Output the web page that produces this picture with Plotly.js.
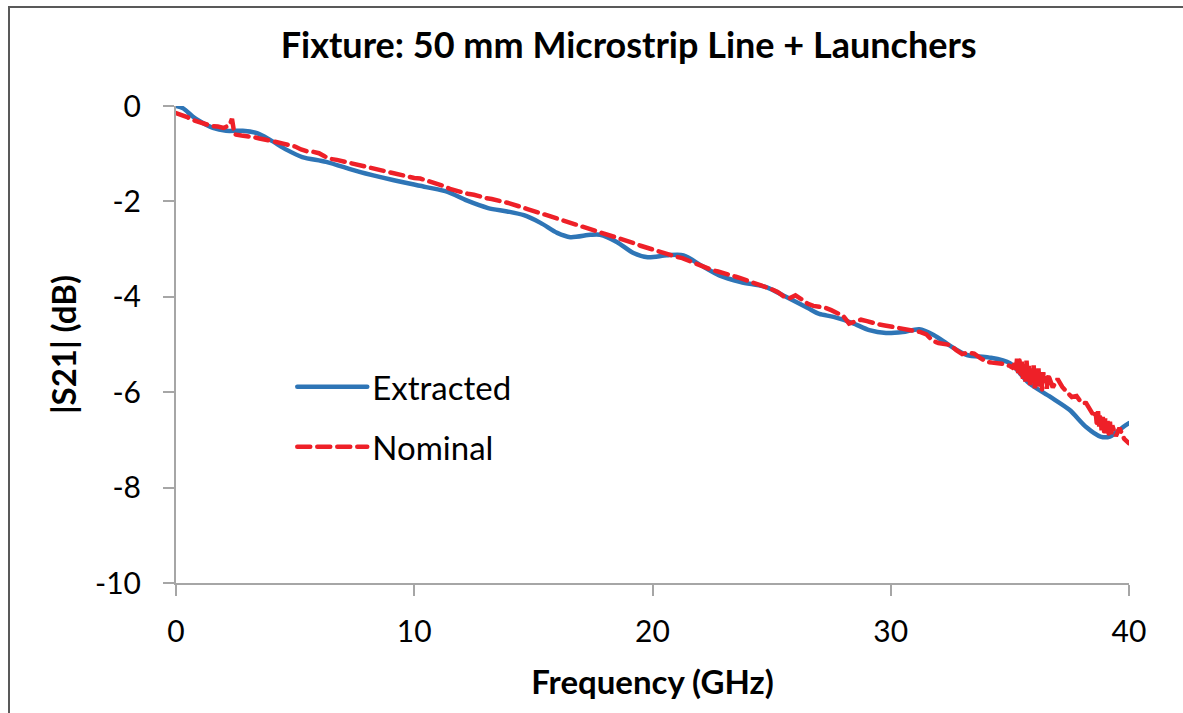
<!DOCTYPE html>
<html>
<head>
<meta charset="utf-8">
<script src="https://cdn.plot.ly/plotly-3.0.1.min.js"></script>
<style>
  html, body { margin: 0; padding: 0; overflow: hidden; background: #fff; }
  #chart { width: 1183px; height: 713px; }
  #frame { position: absolute; left: 8px; top: 6px; width: 1220px; height: 760px;
           border: 2px solid #595959; pointer-events: none; box-sizing: border-box; }
  .scatterlayer .js-line { stroke-linecap: round; }
  .legend .js-line { stroke-linecap: round; }
</style>
</head>
<body>
<div id="chart"></div>
<div id="frame"></div>
<script>
// Extracted |S21| (dB) vs frequency (GHz)
const extractedFreq = [0, 0.3, 0.7, 1.0, 1.55, 2.1, 2.8, 3.4, 3.95, 4.65, 5.3, 6.3, 7.7, 9.1, 10.5, 11.4, 12.2, 13.1, 13.9, 14.6, 15.3, 16.0, 16.55, 17.4, 17.8, 18.5, 19.2, 19.8, 20.6, 21.3, 22.0, 22.8, 23.7, 24.8, 25.6, 26.5, 27.0, 27.6, 28.4, 29.1, 29.8, 30.5, 31.2, 31.8, 32.5, 33.2, 34.1, 35.0, 35.8, 36.7, 37.5, 38.2, 38.8, 39.2, 39.75, 40.0];
const extractedS21 = [0.00, -0.05, -0.22, -0.32, -0.46, -0.52, -0.52, -0.57, -0.71, -0.92, -1.07, -1.17, -1.38, -1.55, -1.70, -1.80, -1.98, -2.14, -2.21, -2.29, -2.45, -2.66, -2.75, -2.70, -2.70, -2.85, -3.08, -3.17, -3.13, -3.13, -3.33, -3.55, -3.69, -3.80, -4.00, -4.23, -4.36, -4.42, -4.55, -4.70, -4.76, -4.74, -4.68, -4.80, -5.03, -5.22, -5.27, -5.39, -5.81, -6.10, -6.37, -6.73, -6.93, -6.93, -6.73, -6.65];

// Nominal |S21| (dB) vs frequency (GHz)
const nominalFreq = [0.00, 0.25, 0.50, 0.75, 1.00, 1.25, 1.50, 1.75, 2.00, 2.25, 2.35, 2.45, 2.50, 2.75, 3.00, 3.25, 3.50, 3.75, 4.00, 4.25, 4.50, 4.75, 5.00, 5.25, 5.50, 5.75, 6.00, 6.25, 6.50, 6.75, 7.00, 7.25, 7.50, 7.75, 8.00, 8.25, 8.50, 8.75, 9.00, 9.25, 9.50, 9.75, 10.00, 10.25, 10.50, 10.75, 11.00, 11.25, 11.50, 11.75, 12.00, 12.25, 12.50, 12.75, 13.00, 13.25, 13.50, 13.75, 14.00, 14.25, 14.50, 14.75, 15.00, 15.25, 15.50, 15.75, 16.00, 16.25, 16.50, 16.75, 17.00, 17.25, 17.50, 17.75, 18.00, 18.25, 18.50, 18.75, 19.00, 19.25, 19.50, 19.75, 20.00, 20.25, 20.50, 20.75, 21.00, 21.25, 21.50, 21.75, 22.00, 22.25, 22.50, 22.75, 23.00, 23.25, 23.50, 23.75, 24.00, 24.25, 24.50, 24.75, 25.00, 25.25, 25.50, 25.75, 26.00, 26.25, 26.50, 26.75, 27.00, 27.25, 27.50, 27.75, 28.00, 28.25, 28.50, 28.75, 29.00, 29.25, 29.50, 29.75, 30.00, 30.25, 30.50, 30.75, 31.00, 31.25, 31.50, 31.75, 32.00, 32.25, 32.50, 32.75, 33.00, 33.25, 33.50, 33.75, 34.00, 34.25, 34.50, 34.75, 35.00, 35.10, 35.20, 35.25, 35.30, 35.35, 35.40, 35.45, 35.50, 35.55, 35.60, 35.65, 35.70, 35.75, 35.80, 35.85, 35.90, 35.95, 36.00, 36.05, 36.10, 36.15, 36.20, 36.25, 36.30, 36.35, 36.40, 36.45, 36.50, 36.55, 36.60, 36.80, 37.00, 37.20, 37.40, 37.60, 37.80, 38.00, 38.20, 38.35, 38.50, 38.55, 38.60, 38.65, 38.70, 38.75, 38.80, 38.85, 38.90, 38.95, 39.00, 39.05, 39.10, 39.15, 39.20, 39.25, 39.30, 39.45, 39.60, 39.80, 40.00];
const nominalS21 = [-0.15, -0.19, -0.24, -0.30, -0.34, -0.39, -0.42, -0.43, -0.46, -0.40, -0.27, -0.58, -0.60, -0.62, -0.63, -0.65, -0.68, -0.70, -0.74, -0.76, -0.79, -0.82, -0.85, -0.91, -0.95, -0.96, -0.99, -1.06, -1.11, -1.13, -1.16, -1.18, -1.22, -1.25, -1.28, -1.31, -1.33, -1.36, -1.38, -1.41, -1.45, -1.48, -1.51, -1.52, -1.56, -1.58, -1.62, -1.68, -1.74, -1.78, -1.81, -1.84, -1.86, -1.90, -1.93, -1.95, -1.97, -2.01, -2.04, -2.09, -2.12, -2.16, -2.20, -2.23, -2.27, -2.31, -2.35, -2.38, -2.42, -2.46, -2.50, -2.54, -2.58, -2.63, -2.68, -2.72, -2.75, -2.79, -2.83, -2.88, -2.93, -2.97, -3.01, -3.06, -3.10, -3.13, -3.16, -3.19, -3.24, -3.30, -3.36, -3.40, -3.44, -3.47, -3.50, -3.54, -3.58, -3.62, -3.66, -3.70, -3.74, -3.79, -3.84, -3.90, -3.99, -4.03, -3.97, -4.05, -4.14, -4.19, -4.21, -4.23, -4.28, -4.34, -4.40, -4.56, -4.52, -4.48, -4.51, -4.55, -4.58, -4.60, -4.62, -4.64, -4.67, -4.70, -4.72, -4.74, -4.79, -4.92, -4.97, -4.99, -5.01, -5.12, -5.20, -5.17, -5.19, -5.28, -5.36, -5.38, -5.39, -5.41, -5.45, -5.48, -5.40, -5.55, -5.30, -5.60, -5.28, -5.66, -5.36, -5.72, -5.40, -5.78, -5.34, -5.70, -5.45, -5.85, -5.50, -5.82, -5.44, -5.92, -5.55, -5.78, -5.50, -5.88, -5.60, -5.95, -5.58, -5.80, -5.66, -5.93, -5.62, -5.90, -5.72, -5.89, -6.00, -6.10, -6.08, -6.22, -6.23, -6.35, -6.45, -6.52, -6.42, -6.68, -6.40, -6.72, -6.48, -6.80, -6.52, -6.84, -6.55, -6.86, -6.60, -6.90, -6.62, -6.88, -6.70, -6.92, -6.75, -6.98, -7.07, -7.15, -7.21];

const xTicks = [0, 10, 20, 30, 40];
const yTicks = [0, -2, -4, -6, -8, -10];

const font = 'Lato, "Open Sans", "DejaVu Sans", sans-serif';
const axisColor = '#A6A6A6';

const traces = [
  {
    x: extractedFreq, y: extractedS21, name: 'Extracted', type: 'scatter', mode: 'lines',
    line: { color: '#2E75B6', width: 4.5, shape: 'spline', smoothing: 0.8 },
    legendgroup: 'a'
  },
  {
    x: nominalFreq, y: nominalS21, name: 'Nominal', type: 'scatter', mode: 'lines',
    line: { color: '#EE2028', width: 4.5, dash: '13px,7px' },
    legendgroup: 'b'
  }
];

const layout = {
  width: 1183, height: 713,
  margin: { l: 176, r: 54, t: 106, b: 130 },
  paper_bgcolor: '#ffffff', plot_bgcolor: '#ffffff',
  font: { family: font, color: '#000000', size: 30 },
  title: {
    text: '<b>Fixture: 50 mm Microstrip Line + Launchers</b>',
    font: { family: font, size: 36, color: '#000000' },
    x: 0.475, xanchor: 'center', xref: 'paper', y: 0.937, yanchor: 'middle', yref: 'container'
  },
  showlegend: true,
  legend: {
    x: 0.122, xanchor: 'left', y: 0.47, yanchor: 'top',
    font: { family: font, size: 33, color: '#000000' },
    bgcolor: 'rgba(0,0,0,0)', itemwidth: 70, tracegroupgap: 14
  },
  xaxis: {
    range: [0, 40], tickvals: xTicks, ticktext: xTicks.map(String),
    showgrid: false, zeroline: false, showline: true, linecolor: axisColor, linewidth: 2,
    ticks: 'outside', ticklen: 11, tickwidth: 2, tickcolor: axisColor, ticklabelstandoff: 10,
    tickfont: { family: font, size: 30, color: '#000' },
    title: { text: '<b>Frequency (GHz)</b>', font: { family: font, size: 33, color: '#000' }, standoff: 24 },
    automargin: false, fixedrange: true
  },
  yaxis: {
    range: [-10, 0], tickvals: yTicks, ticktext: yTicks.map(String),
    showgrid: false, zeroline: false, showline: true, linecolor: axisColor, linewidth: 2,
    ticks: 'outside', ticklen: 11, tickwidth: 2, tickcolor: axisColor, ticklabelstandoff: 16,
    tickfont: { family: font, size: 30, color: '#000' },
    title: { text: '<b>|S21| (dB)</b>', font: { family: font, size: 33, color: '#000' }, standoff: 8 },
    automargin: false, fixedrange: true
  }
};

Plotly.newPlot('chart', traces, layout, { displayModeBar: false, staticPlot: true });
</script>
</body>
</html>
